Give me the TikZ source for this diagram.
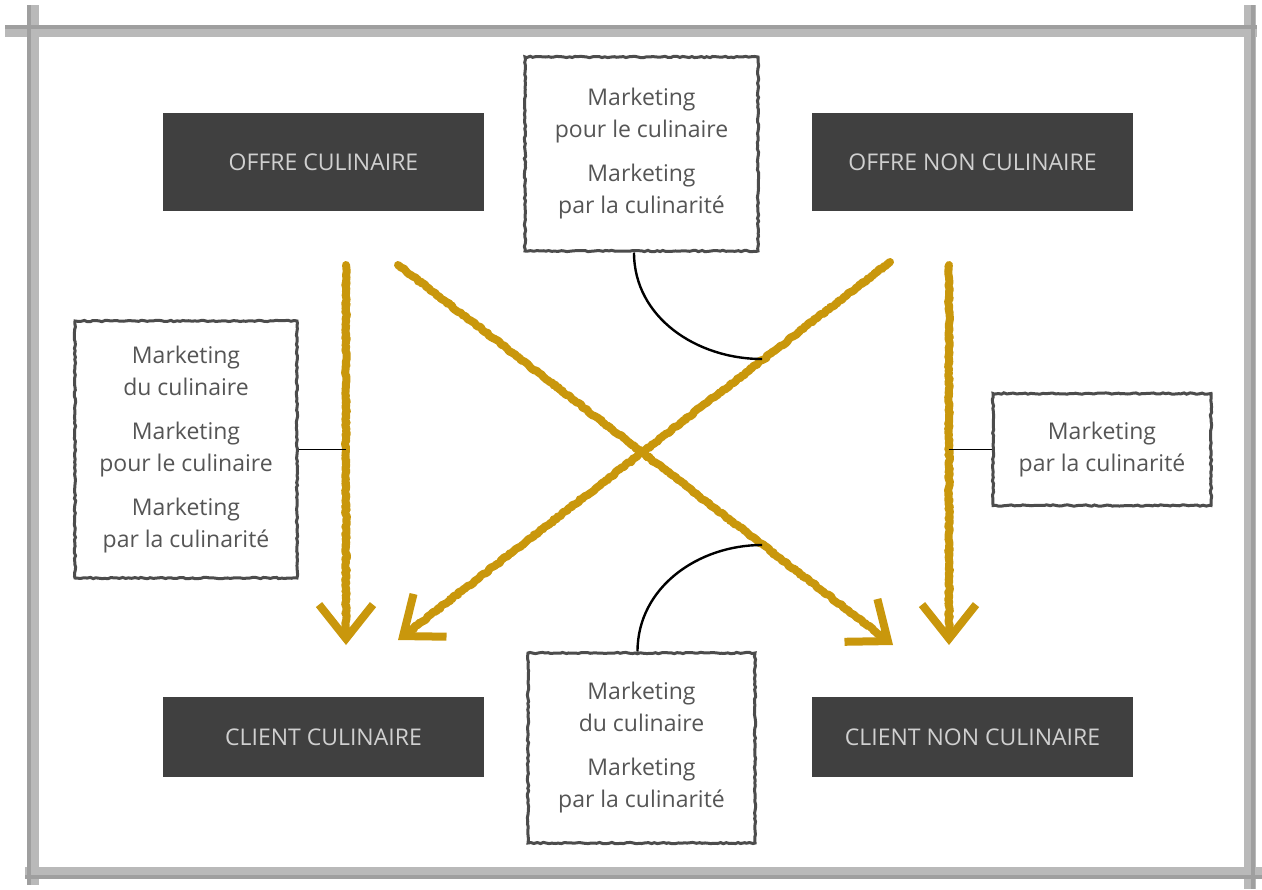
\documentclass[tikz,border=0pt]{standalone}
\usepackage{fontspec}
\setmainfont{Open Sans}
\usetikzlibrary{arrows.meta,positioning,decorations.pathmorphing}
\definecolor{gold}{HTML}{C9970C}
\definecolor{slate}{HTML}{404040}
\definecolor{ink}{HTML}{555555}
\definecolor{pale}{HTML}{D0D0D0}

\begin{document}
\begin{tikzpicture}[x=0.5pt, y=-0.5pt,
  dark/.style={fill=slate, text=pale, minimum width=160.5pt, minimum height=49pt, font=\fontsize{11.5}{14}\selectfont},
  note/.style={draw=black!70, line width=1.5pt, fill=white, align=center, text=ink, font=\fontsize{11.5}{16}\selectfont,
    decorate, decoration={random steps, segment length=1.5pt, amplitude=0.35pt}},
  chalk/.style={draw=gold, line width=4pt, line cap=round, line join=round, -{Straight Barb[length=17pt, width=27pt]},
    decorate, decoration={random steps, segment length=1pt, amplitude=0.45pt, post length=4pt}},
  link/.style={draw=black, line width=1.2pt},
  frame/.style={draw=gray!55, line width=6pt},
  rim/.style={draw=gray!75, line width=2pt}]
  \useasboundingbox (0,0) rectangle (1262,889);
  % sketched frame
  \draw[frame] (5,31) -- (1257,31);
  \draw[frame] (33,5) -- (33,885);
  \draw[frame] (1250,5) -- (1250,889);
  \draw[frame] (25,873) -- (1262,873);
  \draw[rim] (5,27) -- (1257,27);
  \draw[rim] (29,5) -- (29,885);
  \draw[rim] (1253,5) -- (1253,889);
  \draw[rim] (25,877) -- (1262,877);
  % offer and client boxes
  \node[dark] (offc) at (323.5,162) {OFFRE CULINAIRE};
  \node[dark] (offn) at (972.5,162) {OFFRE NON CULINAIRE};
  \node[dark, minimum height=40pt] (clic) at (323.5,737) {CLIENT CULINAIRE};
  \node[dark, minimum height=40pt] (clin) at (972.5,737) {CLIENT NON CULINAIRE};
  % marketing notes
  \node[note, minimum width=116.5pt, minimum height=97pt] (tnote) at (641.5,154)
    {Marketing\\pour le culinaire\\[6pt]Marketing\\par la culinarité};
  \node[note, minimum width=111pt, minimum height=128.5pt] (lnote) at (186,449.5)
    {Marketing\\du culinaire\\[6pt]Marketing\\pour le culinaire\\[6pt]Marketing\\par la culinarité};
  \node[note, minimum width=109pt, minimum height=56pt] (rnote) at (1102,449.5)
    {Marketing\\par la culinarité};
  \node[note, minimum width=113.5pt, minimum height=95pt] (bnote) at (641.5,748)
    {Marketing\\du culinaire\\[6pt]Marketing\\par la culinarité};
  % chalk arrows
  \draw[chalk] (346,265) -- (346,645);
  \draw[chalk] (398,265) -- (893,645);
  \draw[chalk] (890,262) -- (398,640);
  \draw[chalk] (949,265) -- (949,645);
  \coordinate (lhook) at (346,449.5);
  \coordinate (rhook) at (949,449.5);
  \coordinate (thook) at (762,359);
  \coordinate (bhook) at (762,545);
  % links
  \draw[link, line width=0.8pt] (lnote.east) -- (lhook);
  \draw[link, line width=0.8pt] (rnote.west) -- (rhook);
  \draw[link] ([xshift=-3.75pt]tnote.south) to[out=-90, in=180] (thook);
  \draw[link] ([xshift=-2pt]bnote.north) to[out=90, in=180] (bhook);
\end{tikzpicture}
\end{document}
